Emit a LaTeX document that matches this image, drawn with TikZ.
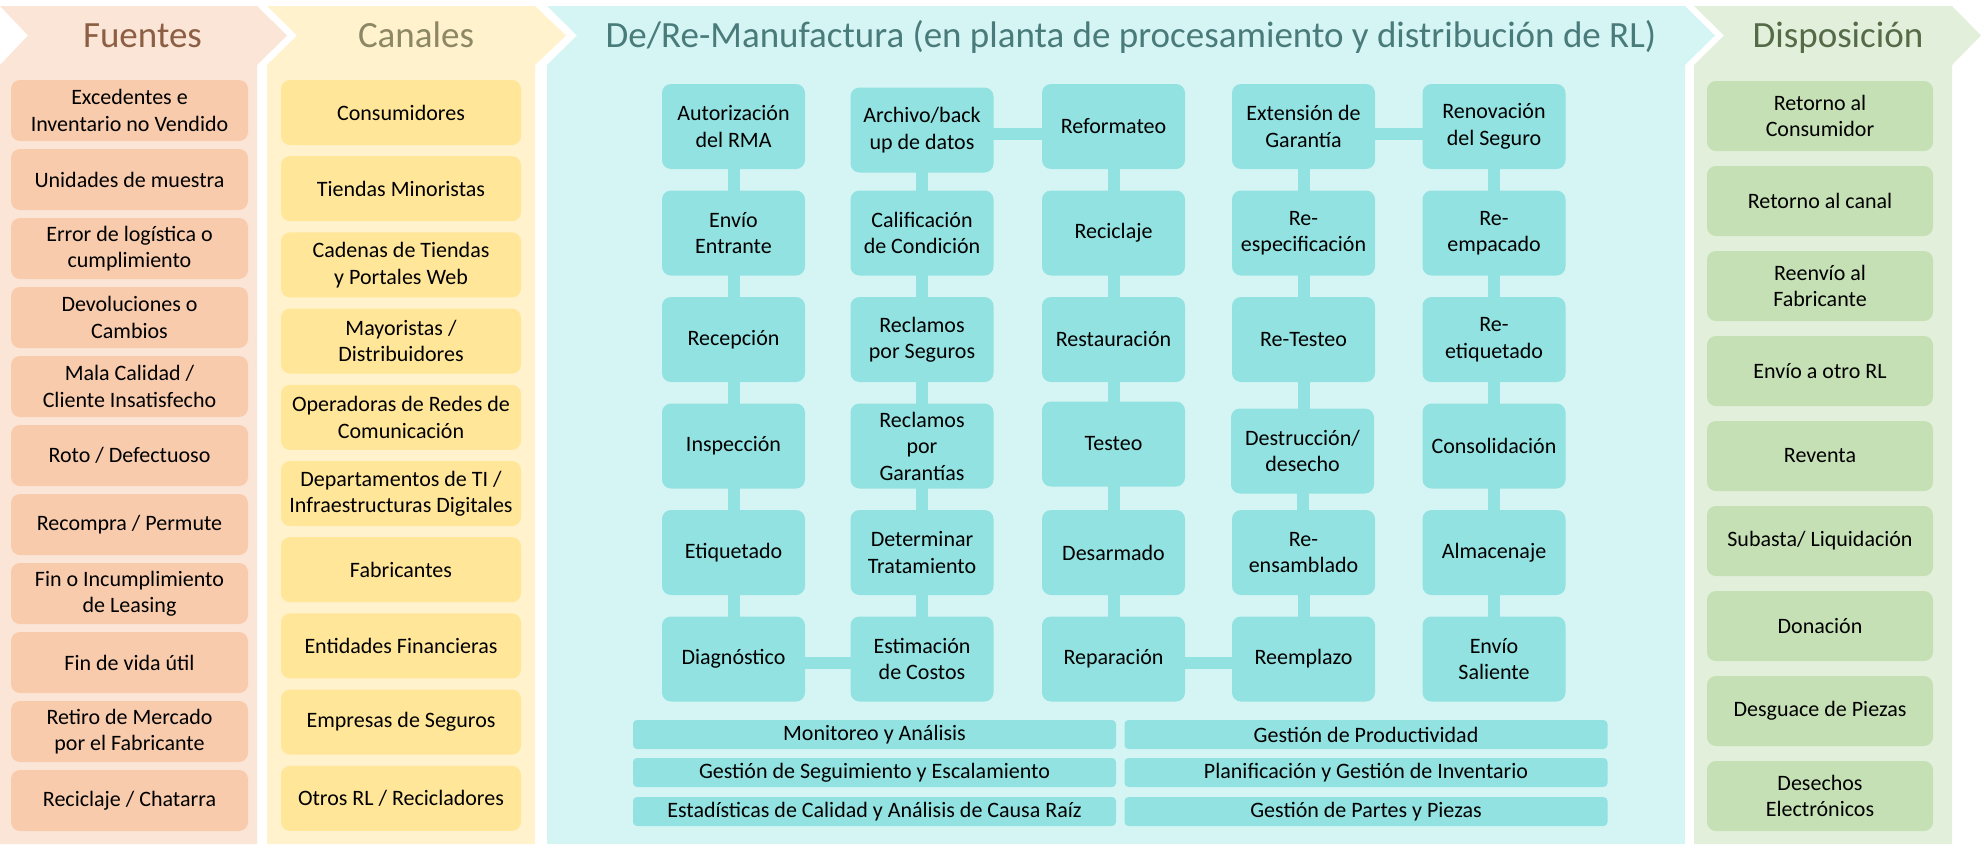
\documentclass[tikz,border=0pt]{standalone}
\usepackage{fontspec}
\setmainfont{Carlito}
\usetikzlibrary{calc}
\pgfdeclarelayer{bg}
\pgfdeclarelayer{cn}
\pgfsetlayers{bg,cn,main}
\definecolor{fpanel}{HTML}{FBE5D6}
\definecolor{fboxc}{HTML}{F8CBAD}
\definecolor{ftitle}{HTML}{8C5F45}
\definecolor{cpanel}{HTML}{FFF2CC}
\definecolor{cboxc}{HTML}{FFE699}
\definecolor{ctitle}{HTML}{8C8764}
\definecolor{tpanel}{HTML}{D5F5F4}
\definecolor{tboxc}{HTML}{92E2E1}
\definecolor{ttitle}{HTML}{4A7B7B}
\definecolor{dpanel}{HTML}{E2EFDA}
\definecolor{dboxc}{HTML}{C5E0B4}
\definecolor{dtitle}{HTML}{556B47}
\newcommand\boxfont{\fontsize{22}{26.5}\selectfont}
\newcommand\headfont{\fontsize{37}{44}\selectfont}
\tikzset{
  basebox/.style={shape=rectangle, inner sep=0pt, align=center, font=\boxfont, text=black, rounded corners=9pt},
  srcbox/.style={basebox, fill=fboxc, minimum width=237pt, minimum height=61pt},
  chanbox/.style={basebox, fill=cboxc, minimum width=240pt, minimum height=65pt},
  procbox/.style={basebox, fill=tboxc, minimum width=143pt, minimum height=85pt},
  dispbox/.style={basebox, fill=dboxc, minimum width=226pt, minimum height=70pt},
  barbox/.style={basebox, fill=tboxc, minimum width=483pt, minimum height=29pt, rounded corners=4pt},
  conn/.style={draw=tboxc, line width=12pt},
  headtitle/.style={font=\headfont, anchor=base, inner sep=0pt}
}
\begin{document}
\begin{tikzpicture}[x=1pt, y={(0pt,-1pt)}]
\useasboundingbox (0,0) rectangle (1981,846);
% panels
\begin{pgfonlayer}{bg}
\fill[fpanel] (0,6) -- (257,6) -- (287,35.5) -- (257,65) -- (257,844) -- (0,844) -- (0,65) -- (28,35.5) -- cycle;
\fill[cpanel] (267,6) -- (535,6) -- (566,35.5) -- (535,65) -- (535,844) -- (267,844) -- (267,65) -- (297,35.5) -- cycle;
\fill[tpanel] (547,6) -- (1685,6) -- (1715,35.5) -- (1685,65) -- (1685,844) -- (547,844) -- (547,65) -- (577,35.5) -- cycle;
\fill[dpanel] (1694,6) -- (1952,6) -- (1981,35.5) -- (1952,65) -- (1952,844) -- (1694,844) -- (1694,65) -- (1724,35.5) -- cycle;
\end{pgfonlayer}
% titles
\node[headtitle, text=ftitle] (tf) at (142.5,47) {Fuentes};
\node[headtitle, text=ctitle] (tc) at (416,47) {Canales};
\node[headtitle, text=ttitle] (tt) at (1131,47) {De/Re-Manufactura (en planta de procesamiento y distribución de RL)};
\node[headtitle, text=dtitle] (td) at (1838,47) {Disposición};
% Fuentes
\node[srcbox] (f1) at (129.5,110.5) {Excedentes e\\Inventario no Vendido};
\node[srcbox] (f2) at (129.5,179.5) {Unidades de muestra};
\node[srcbox] (f3) at (129.5,248.5) {Error de logística o\\cumplimiento};
\node[srcbox] (f4) at (129.5,317.5) {Devoluciones o\\Cambios};
\node[srcbox] (f5) at (129.5,386.5) {Mala Calidad /\\Cliente Insatisfecho};
\node[srcbox] (f6) at (129.5,455.5) {Roto / Defectuoso};
\node[srcbox] (f7) at (129.5,524.5) {Recompra / Permute};
\node[srcbox] (f8) at (129.5,593.5) {Fin o Incumplimiento\\de Leasing};
\node[srcbox] (f9) at (129.5,662.5) {Fin de vida útil};
\node[srcbox] (f10) at (129.5,731.5) {Retiro de Mercado\\por el Fabricante};
\node[srcbox] (f11) at (129.5,800.5) {Reciclaje / Chatarra};
% Canales
\node[chanbox] (c1) at (401,112.5) {Consumidores};
\node[chanbox] (c2) at (401,188.7) {Tiendas Minoristas};
\node[chanbox] (c3) at (401,264.9) {Cadenas de Tiendas\\y Portales Web};
\node[chanbox] (c4) at (401,341.1) {Mayoristas /\\Distribuidores};
\node[chanbox] (c5) at (401,417.3) {Operadoras de Redes de\\Comunicación};
\node[chanbox] (c6) at (401,493.5) {Departamentos de TI /\\Infraestructuras Digitales};
\node[chanbox] (c7) at (401,569.7) {Fabricantes};
\node[chanbox] (c8) at (401,645.9) {Entidades Financieras};
\node[chanbox] (c9) at (401,722.1) {Empresas de Seguros};
\node[chanbox] (c10) at (401,798.3) {Otros RL / Recicladores};
% Proceso - column a
\node[procbox] (a1) at (733.5,126.5) {Autorización\\del RMA};
\node[procbox] (a2) at (733.5,233) {Envío\\Entrante};
\node[procbox] (a3) at (733.5,339.5) {Recepción};
\node[procbox] (a4) at (733.5,446) {Inspección};
\node[procbox] (a5) at (733.5,552.5) {Etiquetado};
\node[procbox] (a6) at (733.5,659) {Diagnóstico};
% column b
\node[procbox] (b1) at (922,130) {Archivo/back\\up de datos};
\node[procbox] (b2) at (922,233) {Calificación\\de Condición};
\node[procbox] (b3) at (922,339.5) {Reclamos\\por Seguros};
\node[procbox] (b4) at (922,446) {Reclamos\\por\\Garantías};
\node[procbox] (b5) at (922,552.5) {Determinar\\Tratamiento};
\node[procbox] (b6) at (922,659) {Estimación\\de Costos};
% column c
\node[procbox] (c1p) at (1113.5,126.5) {Reformateo};
\node[procbox] (c2p) at (1113.5,233) {Reciclaje};
\node[procbox] (c3p) at (1113.5,339.5) {Restauración};
\node[procbox] (c4p) at (1113.5,444) {Testeo};
\node[procbox] (c5p) at (1113.5,552.5) {Desarmado};
\node[procbox] (c6p) at (1113.5,659) {Reparación};
% column d
\node[procbox] (d1) at (1303.5,126.5) {Extensión de\\Garantía};
\node[procbox] (d2) at (1303.5,233) {Re-\\especificación};
\node[procbox] (d3) at (1303.5,339.5) {Re-Testeo};
\node[procbox] (d4) at (1302.5,451) {Destrucción/\\desecho};
\node[procbox] (d5) at (1303.5,552.5) {Re-\\ensamblado};
\node[procbox] (d6) at (1303.5,659) {Reemplazo};
% column e
\node[procbox] (e1) at (1494,126.5) {Renovación\\del Seguro};
\node[procbox] (e2) at (1494,233) {Re-\\empacado};
\node[procbox] (e3) at (1494,339.5) {Re-\\etiquetado};
\node[procbox] (e4) at (1494,446) {Consolidación};
\node[procbox] (e5) at (1494,552.5) {Almacenaje};
\node[procbox] (e6) at (1494,659) {Envío\\Saliente};
% bars
\node[barbox] (g1) at (874.5,734.5) {Monitoreo y Análisis};
\node[barbox] (g2) at (874.5,772.5) {Gestión de Seguimiento y Escalamiento};
\node[barbox] (g3) at (874.5,811.5) {Estadísticas de Calidad y Análisis de Causa Raíz};
\node[barbox] (h1) at (1366,734.5) {Gestión de Productividad};
\node[barbox] (h2) at (1366,772.5) {Planificación y Gestión de Inventario};
\node[barbox] (h3) at (1366,811.5) {Gestión de Partes y Piezas};
% Disposición
\node[dispbox] (x1) at (1820,116) {Retorno al\\Consumidor};
\node[dispbox] (x2) at (1820,201) {Retorno al canal};
\node[dispbox] (x3) at (1820,286) {Reenvío al\\Fabricante};
\node[dispbox] (x4) at (1820,371) {Envío a otro RL};
\node[dispbox] (x5) at (1820,456) {Reventa};
\node[dispbox] (x6) at (1820,541) {Subasta/ Liquidación};
\node[dispbox] (x7) at (1820,626) {Donación};
\node[dispbox] (x8) at (1820,711) {Desguace de Piezas};
\node[dispbox] (x9) at (1820,796) {Desechos\\Electrónicos};
% connectors
\begin{pgfonlayer}{cn}
\foreach \col in {a,b,d,e}{
  \foreach \r [evaluate=\r as \s using int(\r+1)] in {1,...,5}{
    \draw[conn] (\col\r.center) -- (\col\r.center |- \col\s.center);
  }
}
\foreach \r [evaluate=\r as \s using int(\r+1)] in {1,...,5}{
  \draw[conn] (c\r p.center) -- (c\r p.center |- c\s p.center);
}
\draw[conn] ([yshift=-7.5pt]c1p.center) -- ([yshift=-7.5pt]c1p.center -| b1.center);
\draw[conn] ([yshift=-7.5pt]e1.center) -- ([yshift=-7.5pt]e1.center -| d1.center);
\draw[conn] ([yshift=-3.5pt]b6.center) -- ([yshift=-3.5pt]b6.center -| a6.center);
\draw[conn] ([yshift=-3.5pt]d6.center) -- ([yshift=-3.5pt]d6.center -| c6p.center);
\end{pgfonlayer}
\end{tikzpicture}
\end{document}
